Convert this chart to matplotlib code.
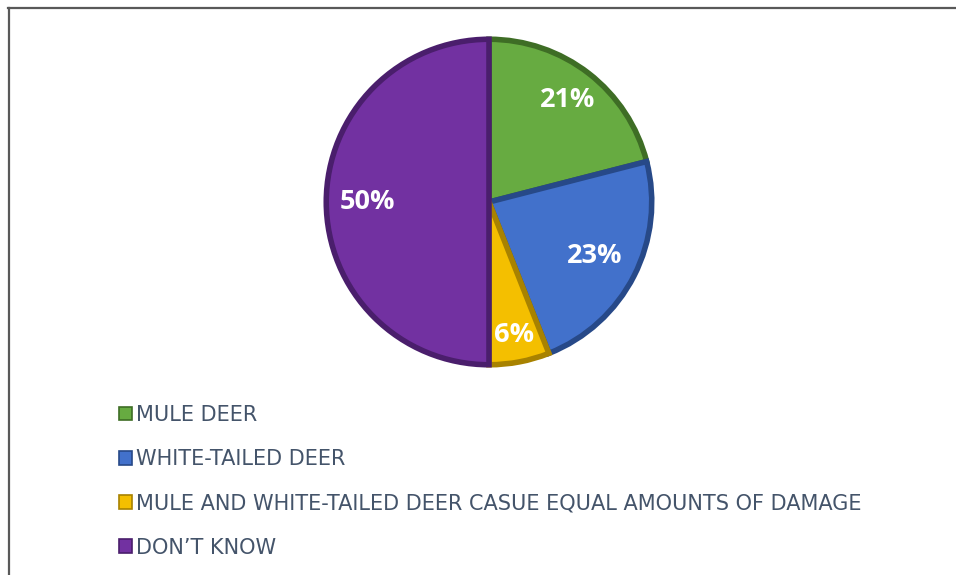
import numpy as np
import matplotlib
matplotlib.use('Agg')
import matplotlib.pyplot as plt
import matplotlib.patches as mpatches
from matplotlib.lines import Line2D

# data
categories = ['MULE DEER', 'WHITE-TAILED DEER',
              'MULE AND WHITE-TAILED DEER CASUE EQUAL AMOUNTS OF DAMAGE',
              'DON\u2019T KNOW']
shares = [21, 23, 6, 50]
label_dist = [0.79, 0.73, 0.83, 0.75]   # where each % label sits (fraction of radius)

FACE = ['#67ab41', '#4271cb', '#f4bf00', '#7231a1']
EDGE = ['#3e6d25', '#274988', '#a88200', '#4a1e6c']
TEXT_COLOR = '#44546a'
BORDER = '#595959'

W, H = 956, 575
fig = plt.figure(figsize=(W / 100, H / 100), dpi=100)

# chart frame (top and left edges only visible)
fig.add_artist(Line2D([8.5 / W, 8.5 / W], [0, 1 - 7.5 / H],
                      transform=fig.transFigure, color=BORDER, lw=1.6))
fig.add_artist(Line2D([8 / W, 1], [1 - 7.5 / H, 1 - 7.5 / H],
                      transform=fig.transFigure, color=BORDER, lw=1.6))

cx, cy, r = 489, 202, 166
ax = fig.add_axes([(cx - r) / W, 1 - (cy + r) / H, 2 * r / W, 2 * r / H])
wedges, _, autotexts = ax.pie(
    shares, colors=FACE, startangle=90, counterclock=False,
    autopct='%1.0f%%', pctdistance=0.78, radius=1.0,
    wedgeprops=dict(linewidth=4, edgecolor='none'),
    textprops=dict(color='white', fontsize=19.5, fontweight='bold',
                   family='Open Sans'))
for w, ec, t, d in zip(wedges, EDGE, autotexts, label_dist):
    w.set_edgecolor(ec)
    w.set_joinstyle('miter')
    mid = np.deg2rad((w.theta1 + w.theta2) / 2)
    t.set_position((d * np.cos(mid), d * np.sin(mid)))
ax.set_aspect('equal')
ax.set_xlim(-1.02, 1.02)
ax.set_ylim(-1.02, 1.02)
ax.axis('off')

handles = [mpatches.Patch(facecolor=f, edgecolor=e, linewidth=1.2)
           for f, e in zip(FACE, EDGE)]
leg = fig.legend(handles, categories, loc='upper left',
                 bbox_to_anchor=(119 / W, 1 - 405 / H),
                 frameon=False, fontsize=15, labelspacing=1.16,
                 handlelength=0.62, handleheight=0.62, handletextpad=0.2,
                 borderaxespad=0, borderpad=0)
for t in leg.get_texts():
    t.set_color(TEXT_COLOR)

fig.savefig('out.png', dpi=100)
